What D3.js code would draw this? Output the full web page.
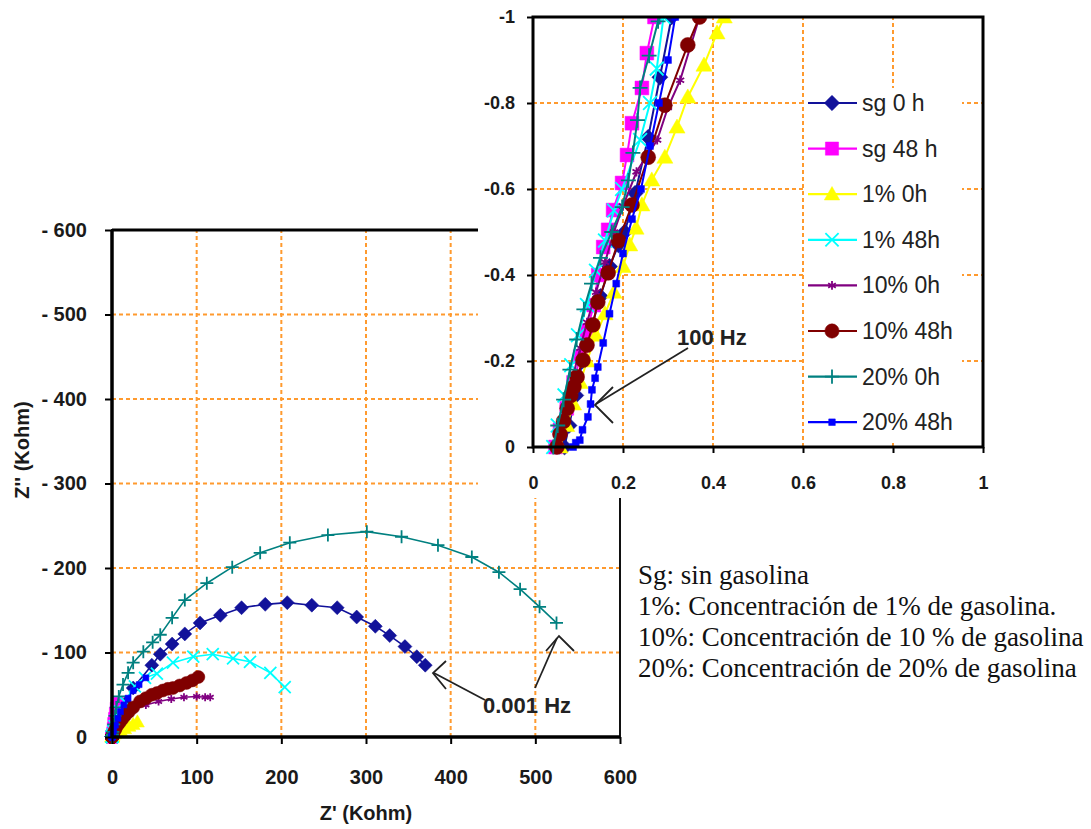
<!DOCTYPE html>
<html>
<head>
<meta charset="utf-8">
<script src="https://cdn.jsdelivr.net/npm/d3@7"></script>
<style>
  body { margin: 0; background: #fff; }
  svg { display: block; }
</style>
</head>
<body>
<script>
// series, in legend order
var seriesNames = ["sg 0 h", "sg 48 h", "1% 0h", "1% 48h", "10% 0h", "10% 48h", "20% 0h", "20% 48h"];

// [Z' , -Z''] in Kohm, high frequency first
var sg0h = [[0.07,0],[0.08,0.05],[0.095,0.12],[0.11,0.2],[0.13,0.28],[0.15,0.35],[0.17,0.42],[0.19,0.47],[0.204,0.5],[0.227,0.59],[0.256,0.72],[0.282,0.86],[0.308,1.0],
  [2,6],[5,14],[10,26],[16,40],[25,58],[47,85],[57,98],[71,110],[86,122],[104,135],[128,144],[153,153],[181,157],[207,159],[236,156],[266,153],[289,142],[311,131],[328,120],[346,107],[360,95],[370,85]];
var sg48h = [[0.05,0],[0.06,0.04],[0.075,0.09],[0.09,0.15],[0.105,0.21],[0.12,0.27],[0.135,0.33],[0.145,0.4],[0.156,0.465],[0.167,0.505],[0.178,0.551],[0.198,0.614],[0.209,0.679],[0.22,0.753],[0.242,0.835],[0.253,0.916],[0.27,1.0],
  [0.5,2],[1,5],[1.5,10],[2,16],[3,22],[4,28],[5,34],[6,40]];
var p1_0h = [[0.06,0],[0.075,0.05],[0.09,0.1],[0.105,0.15],[0.12,0.2],[0.14,0.26],[0.16,0.31],[0.18,0.36],[0.2,0.42],[0.215,0.47],[0.229,0.509],[0.242,0.563],[0.264,0.621],[0.293,0.674],[0.32,0.744],[0.344,0.814],[0.38,0.888],[0.409,0.963],[0.425,1.0],
  [1,2],[3,4],[6,6],[10,8],[15,10],[20,13],[25,15],[30,18]];
var p1_48h = [[0.045,0],[0.055,0.05],[0.07,0.12],[0.085,0.19],[0.1,0.26],[0.12,0.33],[0.14,0.41],[0.16,0.48],[0.18,0.55],[0.198,0.6],[0.238,0.714],[0.26,0.8],[0.275,0.88],[0.29,1.0],
  [0.6,3],[1.5,7],[3,13],[5,20],[9,30],[15,42],[27,60],[39,70],[53,75],[72,88],[96,95],[119,98],[143,93],[163,89],[187,76],[204,59]];
var p10_0h = [[0.05,0],[0.06,0.05],[0.075,0.11],[0.09,0.17],[0.105,0.23],[0.12,0.29],[0.14,0.36],[0.16,0.43],[0.18,0.5],[0.2,0.56],[0.23,0.64],[0.276,0.714],[0.3,0.79],[0.327,0.853],[0.37,1.0],
  [1,3],[3,8],[6,14],[10,20],[15,25],[25,32],[40,38],[55,42],[70,45],[85,47],[100,48],[110,47],[116,47]];
var p10_48h = [[0.053,0],[0.06,0.03],[0.068,0.06],[0.076,0.09],[0.084,0.12],[0.091,0.14],[0.098,0.163],[0.111,0.202],[0.12,0.237],[0.133,0.284],[0.144,0.337],[0.167,0.405],[0.19,0.48],[0.22,0.563],[0.256,0.674],[0.293,0.795],[0.344,0.935],[0.37,1.0],
  [1,2],[2,5],[4,9],[6,13],[9,17],[12,21],[16,26],[20,30],[25,35],[33,42],[40,46],[47,50],[53,52],[60,55],[66,57],[72,58],[80,61],[88,64],[95,67],[102,71]];
var p20_0h = [[0.045,0],[0.055,0.05],[0.068,0.11],[0.082,0.18],[0.097,0.25],[0.113,0.32],[0.13,0.38],[0.15,0.44],[0.175,0.5],[0.198,0.558],[0.212,0.62],[0.222,0.684],[0.232,0.76],[0.238,0.835],[0.258,0.91],[0.278,0.99],[0.281,1.0],
  [0.5,3],[1,6],[2,15],[3.5,25],[5,35],[8,48],[13,62],[19,76],[25,88],[37,101],[48,112],[57,121],[71,141],[86,162],[112,182],[142,201],[175,218],[210,230],[255,239],[301,243],[342,237],[385,227],[425,213],[457,195],[482,175],[505,154],[525,135]];
var p20_48h = [[0.089,0],[0.095,0.01],[0.104,0.016],[0.11,0.04],[0.122,0.07],[0.128,0.1],[0.131,0.133],[0.138,0.16],[0.144,0.186],[0.156,0.242],[0.17,0.31],[0.185,0.38],[0.2,0.45],[0.22,0.53],[0.24,0.6],[0.26,0.7],[0.28,0.8],[0.3,0.9],[0.316,1.0],
  [1,3],[2,8],[4,14],[7,22],[10,30],[14,38],[19,46],[25,55],[32,62],[40,70]];

var seriesData = [sg0h, sg48h, p1_0h, p1_48h, p10_0h, p10_48h, p20_0h, p20_48h];
var seriesColors = ["#12129a", "#ff00ff", "#ffff00", "#00ffff", "#800080", "#800000", "#008080", "#0000ff"];
var seriesMarkers = ["diamond", "square", "triangle", "cross", "star", "circle", "plus", "dot"];

var mainTicks = [0, 100, 200, 300, 400, 500, 600];
var insetTicks = [0, 0.2, 0.4, 0.6, 0.8, 1];

var notes = [
  "Sg: sin gasolina",
  "1%: Concentración de 1% de gasolina.",
  "10%: Concentración de 10 % de gasolina",
  "20%: Concentración de 20% de gasolina"
];

var gridColor = "#ff9a2e";
var sans = "'Liberation Sans', Arial, sans-serif";

var svg = d3.select("body").append("svg")
    .attr("width", 1091)
    .attr("height", 829);

// marker shapes, k scales size
function markerPath(type, k) {
  var s;
  switch (type) {
    case "diamond": s = 7 * k; return "M0," + (-s) + "L" + s + ",0L0," + s + "L" + (-s) + ",0Z";
    case "square": s = 6 * k; return "M" + (-s) + "," + (-s) + "H" + s + "V" + s + "H" + (-s) + "Z";
    case "triangle": s = 7 * k; return "M0," + (-s) + "L" + s + "," + (s * 0.75) + "L" + (-s) + "," + (s * 0.75) + "Z";
    case "circle": s = 6.5 * k; return "M" + s + ",0A" + s + "," + s + " 0 1,1 " + (-s) + ",0A" + s + "," + s + " 0 1,1 " + s + ",0Z";
    case "dot": s = 3 * k; return "M" + (-s) + "," + (-s) + "H" + s + "V" + s + "H" + (-s) + "Z";
    case "cross": s = 6 * k; return "M" + (-s) + "," + (-s) + "L" + s + "," + s + "M" + (-s) + "," + s + "L" + s + "," + (-s);
    case "plus": s = 6.5 * k; return "M0," + (-s) + "V" + s + "M" + (-s) + ",0H" + s;
    case "star": s = 4 * k; return "M0," + (-s) + "V" + s + "M" + (-s * 0.87) + "," + (-s * 0.5) + "L" + (s * 0.87) + "," + (s * 0.5) + "M" + (-s * 0.87) + "," + (s * 0.5) + "L" + (s * 0.87) + "," + (-s * 0.5);
  }
}
function isStroke(type) { return type === "cross" || type === "plus" || type === "star"; }

function drawSeries(g, xs, ys, k, lw) {
  var line = d3.line().x(function (d) { return xs(d[0]); }).y(function (d) { return ys(d[1]); });
  seriesData.forEach(function (pts, i) {
    var sg = g.append("g");
    sg.append("path").attr("d", line(pts))
      .attr("fill", "none").attr("stroke", seriesColors[i]).attr("stroke-width", lw);
    var m = seriesMarkers[i];
    sg.selectAll("path.m").data(pts).enter().append("path")
      .attr("class", "m")
      .attr("transform", function (d) { return "translate(" + xs(d[0]) + "," + ys(d[1]) + ")"; })
      .attr("d", markerPath(m, k))
      .attr("fill", isStroke(m) ? "none" : seriesColors[i])
      .attr("stroke", seriesColors[i])
      .attr("stroke-width", isStroke(m) ? 1.8 : 0.5);
  });
}

// ---------- main chart ----------
var x = d3.scaleLinear().domain([0, 600]).range([112, 620]);
var y = d3.scaleLinear().domain([0, 600]).range([737, 230]);

var grid = svg.append("g").attr("stroke", gridColor).attr("stroke-width", 2).attr("stroke-dasharray", "4,3");
mainTicks.slice(1, -1).forEach(function (t) {
  grid.append("line").attr("x1", x(t)).attr("x2", x(t)).attr("y1", y(0)).attr("y2", y(600));
  grid.append("line").attr("x1", x(0)).attr("x2", x(600)).attr("y1", y(t)).attr("y2", y(t));
});

svg.append("defs").append("clipPath").attr("id", "clipMain")
  .append("rect").attr("x", 98).attr("y", 230).attr("width", 522).attr("height", 520);
drawSeries(svg.append("g").attr("clip-path", "url(#clipMain)"), x, y, 1, 1.6);

svg.append("rect").attr("x", x(0)).attr("y", y(600)).attr("width", x(600) - x(0)).attr("height", y(0) - y(600))
  .attr("fill", "none").attr("stroke", "#111").attr("stroke-width", 2);
svg.append("line").attr("x1", x(0)).attr("x2", x(0)).attr("y1", y(600)).attr("y2", y(0)).attr("stroke", "#000").attr("stroke-width", 3.5);
svg.append("line").attr("x1", x(0)).attr("x2", x(600)).attr("y1", y(0)).attr("y2", y(0)).attr("stroke", "#000").attr("stroke-width", 3.5);
svg.append("line").attr("x1", x(0)).attr("x2", x(600)).attr("y1", y(600)).attr("y2", y(600)).attr("stroke", "#000").attr("stroke-width", 3);

var yAxis = svg.append("g").attr("transform", "translate(" + x(0) + ",0)")
  .call(d3.axisLeft(y).tickValues(mainTicks).tickSize(7).tickPadding(18)
    .tickFormat(function (d) { return d === 0 ? "0" : "- " + d; }));
var xAxis = svg.append("g").attr("transform", "translate(0," + y(0) + ")")
  .call(d3.axisBottom(x).tickValues(mainTicks).tickSize(7).tickPadding(26));
[xAxis, yAxis].forEach(function (a) {
  a.select(".domain").remove();
  a.selectAll(".tick line").attr("stroke", "#000").attr("stroke-width", 2);
  a.selectAll("text").attr("fill", "#1a1a1a").style("font", "bold 20px " + sans);
});

svg.append("text").attr("x", 366).attr("y", 813).attr("text-anchor", "middle").attr("dominant-baseline", "central")
  .style("font", "bold 20px " + sans).attr("fill", "#1a1a1a").text("Z' (Kohm)");
svg.append("text").attr("transform", "translate(22,450) rotate(-90)").attr("text-anchor", "middle").attr("dominant-baseline", "central")
  .style("font", "bold 20px " + sans).attr("fill", "#1a1a1a").text("Z'' (Kohm)");

// ---------- inset ----------
var xi = d3.scaleLinear().domain([0, 1]).range([533, 983]);
var yi = d3.scaleLinear().domain([0, 1]).range([447, 17]);

svg.append("rect").attr("x", 478).attr("y", 0).attr("width", 613).attr("height", 498).attr("fill", "#fff");

var igrid = svg.append("g").attr("stroke", gridColor).attr("stroke-width", 2).attr("stroke-dasharray", "4,3");
insetTicks.slice(1, -1).forEach(function (t) {
  igrid.append("line").attr("x1", xi(t)).attr("x2", xi(t)).attr("y1", yi(0)).attr("y2", yi(1));
  igrid.append("line").attr("x1", xi(0)).attr("x2", xi(1)).attr("y1", yi(t)).attr("y2", yi(t));
});

svg.select("defs").append("clipPath").attr("id", "clipInset")
  .append("rect").attr("x", 520).attr("y", yi(1)).attr("width", xi(1) - 520).attr("height", yi(0) - yi(1) + 14);
var ig = svg.append("g").attr("clip-path", "url(#clipInset)");
drawSeries(ig, xi, yi, 1.15, 2);

// legend
var leg = svg.append("g");
leg.append("rect").attr("x", 806).attr("y", 88).attr("width", 156).attr("height", 352).attr("fill", "#fff");
seriesNames.forEach(function (name, i) {
  var cy = 103 + i * 45.6, m = seriesMarkers[i];
  leg.append("line").attr("x1", 808).attr("x2", 857).attr("y1", cy).attr("y2", cy)
    .attr("stroke", seriesColors[i]).attr("stroke-width", 2.2);
  leg.append("path").attr("transform", "translate(832," + cy + ")").attr("d", markerPath(m, 1.1))
    .attr("fill", isStroke(m) ? "none" : seriesColors[i]).attr("stroke", seriesColors[i])
    .attr("stroke-width", isStroke(m) ? 1.8 : 0.5);
  leg.append("text").attr("x", 862).attr("y", cy).attr("dominant-baseline", "central")
    .style("font", "23px " + sans).attr("fill", "#222").text(name);
});

svg.append("rect").attr("x", xi(0)).attr("y", yi(1)).attr("width", xi(1) - xi(0)).attr("height", yi(0) - yi(1))
  .attr("fill", "none").attr("stroke", "#000").attr("stroke-width", 3);

var yiAxis = svg.append("g").attr("transform", "translate(" + xi(0) + ",0)")
  .call(d3.axisLeft(yi).tickValues(insetTicks).tickSize(6).tickPadding(12)
    .tickFormat(function (d) { return d === 0 ? "0" : "-" + d; }));
var xiAxis = svg.append("g").attr("transform", "translate(0," + yi(0) + ")")
  .call(d3.axisBottom(xi).tickValues(insetTicks).tickSize(6).tickPadding(23)
    .tickFormat(function (d) { return String(d); }));
[xiAxis, yiAxis].forEach(function (a) {
  a.select(".domain").remove();
  a.selectAll(".tick line").attr("stroke", "#000").attr("stroke-width", 2);
  a.selectAll("text").attr("fill", "#1a1a1a").style("font", "bold 18px " + sans);
});

// ---------- annotations ----------
var ann = svg.append("g").attr("stroke", "#222").attr("stroke-width", 1.8).attr("fill", "none");
ann.append("line").attr("x1", 688).attr("y1", 348).attr("x2", 596).attr("y2", 404);
ann.append("polyline").attr("points", "613,387 595,405 613,423");
ann.append("line").attr("x1", 485).attr("y1", 700).attr("x2", 434).attr("y2", 673);
ann.append("polyline").attr("points", "446,661 433,673 446,689");
ann.append("line").attr("x1", 535).attr("y1", 688).attr("x2", 557).attr("y2", 638);
ann.append("polyline").attr("points", "546,651 559,636 574,651");

svg.append("text").attr("x", 677).attr("y", 337).attr("dominant-baseline", "central")
  .style("font", "bold 22px " + sans).attr("fill", "#222").text("100 Hz");
svg.append("text").attr("x", 483).attr("y", 705).attr("dominant-baseline", "central")
  .style("font", "bold 22px " + sans).attr("fill", "#222").text("0.001 Hz");

svg.append("g").selectAll("text").data(notes).enter().append("text")
  .attr("x", 638).attr("y", function (d, i) { return 575 + i * 31; })
  .attr("dominant-baseline", "central")
  .style("font", "27px 'Liberation Serif', 'Times New Roman', serif").attr("fill", "#111")
  .text(function (d) { return d; });
</script>
</body>
</html>
